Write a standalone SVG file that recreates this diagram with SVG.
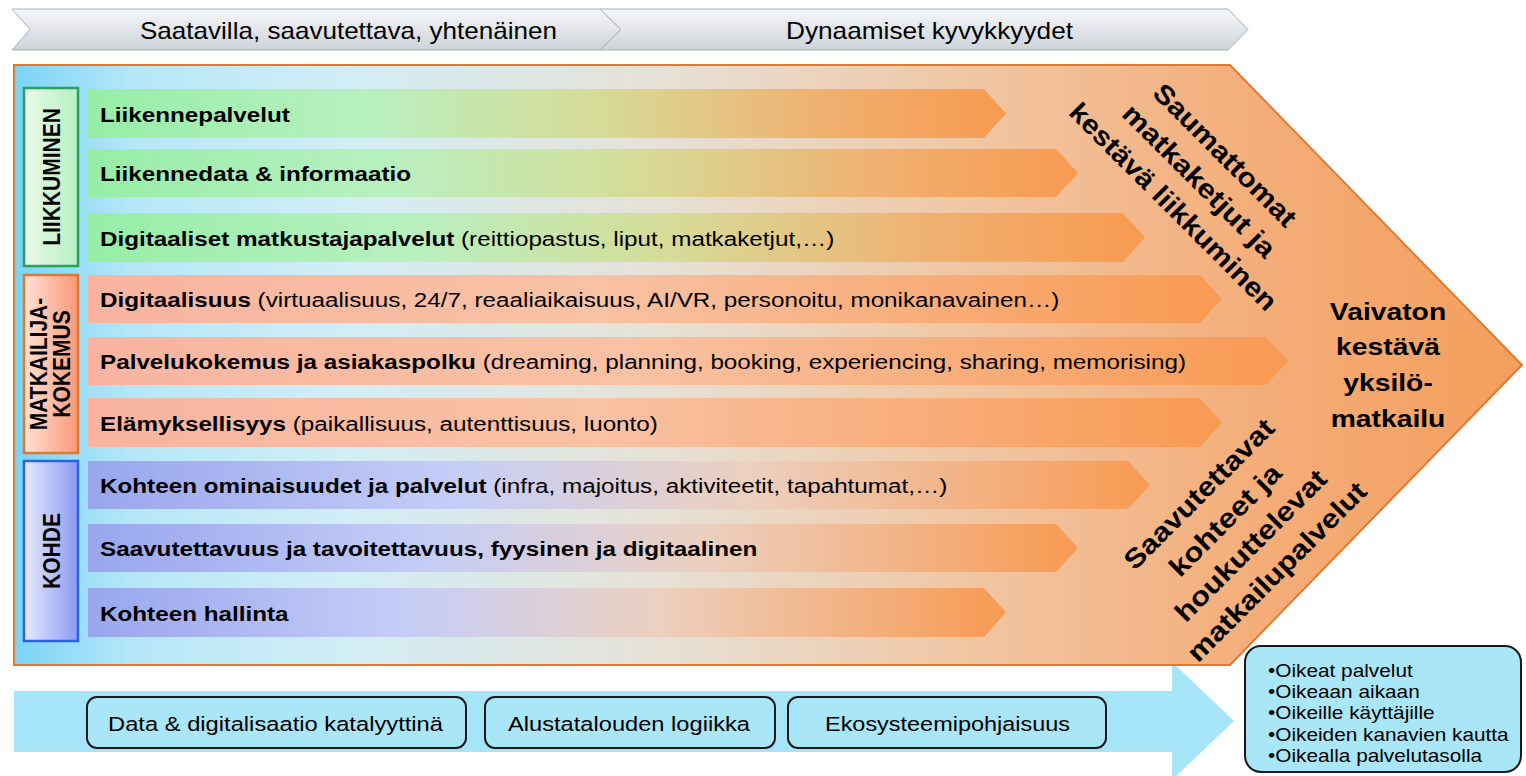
<svg xmlns="http://www.w3.org/2000/svg" width="1526" height="776" viewBox="0 0 1526 776">
<defs>
<linearGradient id="gBg" gradientUnits="userSpaceOnUse" x1="14" y1="0" x2="1522" y2="0">
<stop offset="0" stop-color="#7ad4f6"/>
<stop offset="0.08" stop-color="#b6e7f8"/>
<stop offset="0.22" stop-color="#d2eef6"/>
<stop offset="0.42" stop-color="#e6e2d8"/>
<stop offset="0.62" stop-color="#f0c8a6"/>
<stop offset="0.82" stop-color="#f4ae7a"/>
<stop offset="1" stop-color="#f49e5c"/>
</linearGradient>
<linearGradient id="gGreen" x1="0" y1="0" x2="1" y2="0">
<stop offset="0" stop-color="#96eea6"/>
<stop offset="0.3" stop-color="#b8f0c0"/>
<stop offset="0.55" stop-color="#d6dc98"/>
<stop offset="0.8" stop-color="#f0b070"/>
<stop offset="1" stop-color="#f89a50"/>
</linearGradient>
<linearGradient id="gSalmon" x1="0" y1="0" x2="1" y2="0">
<stop offset="0" stop-color="#f8b4a0"/>
<stop offset="0.45" stop-color="#f8c2a4"/>
<stop offset="1" stop-color="#f89a52"/>
</linearGradient>
<linearGradient id="gBlue" x1="0" y1="0" x2="1" y2="0">
<stop offset="0" stop-color="#98a6ee"/>
<stop offset="0.35" stop-color="#c6cef6"/>
<stop offset="0.62" stop-color="#ecd0c0"/>
<stop offset="1" stop-color="#f89a52"/>
</linearGradient>
<linearGradient id="gCatGreen" x1="0" y1="0" x2="1" y2="0">
<stop offset="0" stop-color="#eaf9ea"/>
<stop offset="1" stop-color="#b6f0c2"/>
</linearGradient>
<linearGradient id="gCatOrange" x1="0" y1="0" x2="1" y2="0">
<stop offset="0" stop-color="#fde2d4"/>
<stop offset="1" stop-color="#f89878"/>
</linearGradient>
<linearGradient id="gCatBlue" x1="0" y1="0" x2="1" y2="0">
<stop offset="0" stop-color="#e6eafc"/>
<stop offset="1" stop-color="#8a9af4"/>
</linearGradient>
<linearGradient id="gTop" x1="0" y1="0" x2="0" y2="1">
<stop offset="0" stop-color="#f6f7f9"/>
<stop offset="1" stop-color="#cdd3d9"/>
</linearGradient>
</defs>
<style>
text{font-family:"Liberation Sans",Arial,sans-serif;fill:#000}
.b{font-weight:bold}
.row{font-size:21px}
.cat{font-size:21px;font-weight:bold}
.rot{font-size:27px;font-weight:bold}
.big{font-size:24.5px;font-weight:bold}
.top{font-size:24px}
.box{font-size:20.5px}
.lst{font-size:18px}
.chev{fill:url(#gTop);stroke:#a8b0b8;stroke-width:1}
.rowG{fill:url(#gGreen)}
.rowS{fill:url(#gSalmon)}
.rowB{fill:url(#gBlue)}
.pill{fill:#a8e6f8;stroke:#1a1a1a;stroke-width:2}
</style>

<g id="top-chevrons">
<g id="chevron-saatavilla">
<polygon class="chev" points="12,9 600,9 621,29.5 600,50 12,50 30,29.5"/>
<text class="top" x="348.5" y="39" text-anchor="middle" textLength="417" lengthAdjust="spacingAndGlyphs">Saatavilla, saavutettava, yhtenäinen</text>
</g>
<g id="chevron-dynaamiset">
<polygon class="chev" points="600,9 1228,9 1248,29.5 1228,50 600,50 621,29.5"/>
<text class="top" x="929.5" y="39" text-anchor="middle" textLength="287" lengthAdjust="spacingAndGlyphs">Dynaamiset kyvykkyydet</text>
</g>
</g>

<g id="bottom-arrow">
<polygon points="14,691 1172,691 1172,662 1234,721 1172,780 1172,752 14,752" fill="#a6e4f8"/>
</g>

<g id="main-chevron">
<polygon points="14,65 1230,65 1522,365 1230,665 14,665" fill="url(#gBg)" stroke="#e07a30" stroke-width="2"/>
</g>

<g id="row-liikennepalvelut">
<polygon class="rowG" points="88,89 984,89 1006,113.5 984,138 88,138"/>
<text class="row" transform="translate(100,121.5) scale(1.155,1)"><tspan class="b">Liikennepalvelut</tspan></text>
</g>
<g id="row-liikennedata">
<polygon class="rowG" points="88,149 1056,149 1078,173 1056,197 88,197"/>
<text class="row" transform="translate(100,181) scale(1.155,1)"><tspan class="b">Liikennedata &amp; informaatio</tspan></text>
</g>
<g id="row-digitaaliset">
<polygon class="rowG" points="88,213 1123,213 1145,237.5 1123,262 88,262"/>
<text class="row" transform="translate(100,245.5) scale(1.155,1)"><tspan class="b">Digitaaliset matkustajapalvelut</tspan> (reittiopastus, liput, matkaketjut,…)</text>
</g>
<g id="row-digitaalisuus">
<polygon class="rowS" points="88,275 1200,275 1222,299 1200,323 88,323"/>
<text class="row" transform="translate(100,307) scale(1.155,1)"><tspan class="b">Digitaalisuus</tspan> (virtuaalisuus, 24/7, reaaliaikaisuus, AI/VR, personoitu, monikanavainen…)</text>
</g>
<g id="row-palvelukokemus">
<polygon class="rowS" points="88,337 1266,337 1288,361 1266,385 88,385"/>
<text class="row" transform="translate(100,369) scale(1.155,1)"><tspan class="b">Palvelukokemus ja asiakaspolku</tspan> (dreaming, planning, booking, experiencing, sharing, memorising)</text>
</g>
<g id="row-elamyksellisyys">
<polygon class="rowS" points="88,398 1200,398 1222,422.5 1200,447 88,447"/>
<text class="row" transform="translate(100,430.5) scale(1.155,1)"><tspan class="b">Elämyksellisyys</tspan> (paikallisuus, autenttisuus, luonto)</text>
</g>
<g id="row-kohteen-ominaisuudet">
<polygon class="rowB" points="88,461 1128,461 1150,485 1128,509 88,509"/>
<text class="row" transform="translate(100,493) scale(1.155,1)"><tspan class="b">Kohteen ominaisuudet ja palvelut</tspan> (infra, majoitus, aktiviteetit, tapahtumat,…)</text>
</g>
<g id="row-saavutettavuus">
<polygon class="rowB" points="88,524 1056,524 1078,548 1056,572 88,572"/>
<text class="row" transform="translate(100,556) scale(1.155,1)"><tspan class="b">Saavutettavuus ja tavoitettavuus, fyysinen ja digitaalinen</tspan></text>
</g>
<g id="row-kohteen-hallinta">
<polygon class="rowB" points="88,588 984,588 1006,612.5 984,637 88,637"/>
<text class="row" transform="translate(100,620.5) scale(1.155,1)"><tspan class="b">Kohteen hallinta</tspan></text>
</g>

<g id="cat-liikkuminen">
<rect x="24" y="88" width="54" height="178" fill="url(#gCatGreen)" stroke="#2aa060" stroke-width="2.5"/>
<text class="cat" text-anchor="middle" transform="translate(60,177) scale(1.155,1) rotate(-90)">LIIKKUMINEN</text>
</g>
<g id="cat-matkailijakokemus">
<rect x="24" y="275" width="54" height="178" fill="url(#gCatOrange)" stroke="#e07830" stroke-width="2.5"/>
<text class="cat" text-anchor="middle" transform="translate(47,364) scale(1.155,1) rotate(-90)">MATKAILIJA-</text>
<text class="cat" text-anchor="middle" transform="translate(70,364) scale(1.155,1) rotate(-90)">KOKEMUS</text>
</g>
<g id="cat-kohde">
<rect x="24" y="461" width="54" height="180" fill="url(#gCatBlue)" stroke="#2a62e0" stroke-width="2.5"/>
<text class="cat" text-anchor="middle" transform="translate(60,551) scale(1.155,1) rotate(-90)">KOHDE</text>
</g>

<g id="label-saumattomat" transform="translate(1199,181) rotate(45)">
<text class="rot" x="0" y="-27.5" text-anchor="middle" textLength="190" lengthAdjust="spacingAndGlyphs">Saumattomat</text>
<text class="rot" x="0" y="9" text-anchor="middle" textLength="204" lengthAdjust="spacingAndGlyphs">matkaketjut ja</text>
<text class="rot" x="0" y="45.5" text-anchor="middle" textLength="281" lengthAdjust="spacingAndGlyphs">kestävä liikkuminen</text>
</g>

<g id="label-saavutettavat" transform="translate(1238,533) rotate(-45)">
<text class="rot" x="0" y="-46" text-anchor="middle" textLength="200" lengthAdjust="spacingAndGlyphs">Saavutettavat</text>
<text class="rot" x="0" y="-9" text-anchor="middle" textLength="146" lengthAdjust="spacingAndGlyphs">kohteet ja</text>
<text class="rot" x="0" y="27" text-anchor="middle" textLength="202" lengthAdjust="spacingAndGlyphs">houkuttelevat</text>
<text class="rot" x="0" y="64" text-anchor="middle" textLength="241" lengthAdjust="spacingAndGlyphs">matkailupalvelut</text>
</g>

<g id="label-vaivaton" transform="translate(1388,0) scale(1.155,1)">
<text class="big" x="0" y="320" text-anchor="middle">Vaivaton</text>
<text class="big" x="0" y="355.5" text-anchor="middle">kestävä</text>
<text class="big" x="0" y="391" text-anchor="middle">yksilö-</text>
<text class="big" x="0" y="427" text-anchor="middle">matkailu</text>
</g>

<g id="box-data">
<rect class="pill" x="87" y="697" width="379" height="51" rx="10"/>
<text class="box" x="275.5" y="731" text-anchor="middle" textLength="335" lengthAdjust="spacingAndGlyphs">Data &amp; digitalisaatio katalyyttinä</text>
</g>
<g id="box-alustatalous">
<rect class="pill" x="485" y="697" width="290" height="51" rx="10"/>
<text class="box" x="629" y="731" text-anchor="middle" textLength="242" lengthAdjust="spacingAndGlyphs">Alustatalouden logiikka</text>
</g>
<g id="box-ekosysteemi">
<rect class="pill" x="788" y="697" width="318" height="51" rx="10"/>
<text class="box" x="947.5" y="731" text-anchor="middle" textLength="245" lengthAdjust="spacingAndGlyphs">Ekosysteemipohjaisuus</text>
</g>

<g id="box-oikeat">
<rect class="pill" x="1245" y="646" width="276" height="126" rx="16"/>
<g transform="translate(1268,0) scale(1.155,1)">
<text class="lst" x="0" y="677">•Oikeat palvelut</text>
<text class="lst" x="0" y="698.2">•Oikeaan aikaan</text>
<text class="lst" x="0" y="719.4">•Oikeille käyttäjille</text>
<text class="lst" x="0" y="740.6">•Oikeiden kanavien kautta</text>
<text class="lst" x="0" y="761.8">•Oikealla palvelutasolla</text>
</g>
</g>

<g id="connectors"/>
</svg>
